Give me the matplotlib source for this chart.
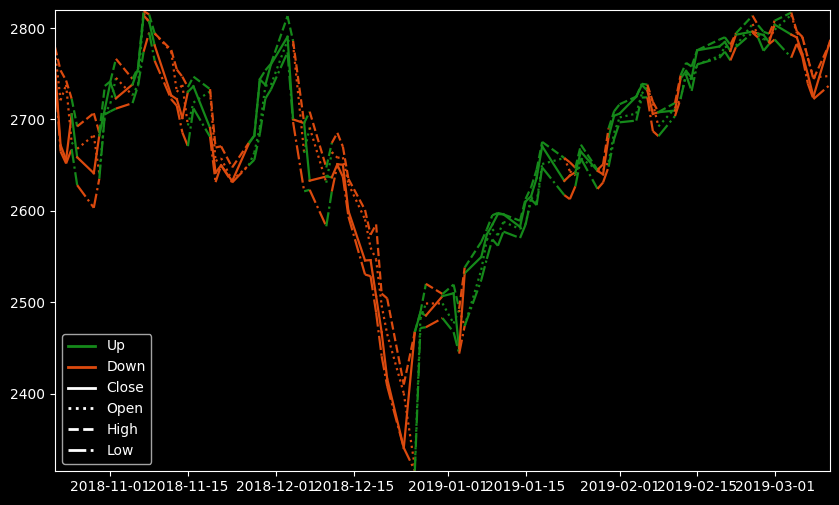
import matplotlib
matplotlib.use("Agg")
import matplotlib.pyplot as plt
import matplotlib.dates as mdates
from matplotlib.lines import Line2D
import numpy as np
import pandas as pd

plt.style.use("dark_background")

# daily index values, Oct 2018 - Mar 2019
dates = [
    "2018-10-22", "2018-10-23", "2018-10-24", "2018-10-25", "2018-10-26", "2018-10-29",
    "2018-10-30", "2018-10-31", "2018-11-01", "2018-11-02", "2018-11-05", "2018-11-06",
    "2018-11-07", "2018-11-08", "2018-11-09", "2018-11-12", "2018-11-13", "2018-11-14",
    "2018-11-15", "2018-11-16", "2018-11-19", "2018-11-20", "2018-11-21", "2018-11-23",
    "2018-11-26", "2018-11-27", "2018-11-28", "2018-11-29", "2018-11-30", "2018-12-03",
    "2018-12-04", "2018-12-06", "2018-12-07", "2018-12-10", "2018-12-11", "2018-12-12",
    "2018-12-13", "2018-12-14", "2018-12-17", "2018-12-18", "2018-12-19", "2018-12-20",
    "2018-12-21", "2018-12-24", "2018-12-26", "2018-12-27", "2018-12-28", "2018-12-31",
    "2019-01-02", "2019-01-03", "2019-01-04", "2019-01-07", "2019-01-08", "2019-01-09",
    "2019-01-10", "2019-01-11", "2019-01-14", "2019-01-15", "2019-01-16", "2019-01-17",
    "2019-01-18", "2019-01-22", "2019-01-23", "2019-01-24", "2019-01-25", "2019-01-28",
    "2019-01-29", "2019-01-30", "2019-01-31", "2019-02-01", "2019-02-04", "2019-02-05",
    "2019-02-06", "2019-02-07", "2019-02-08", "2019-02-11", "2019-02-12", "2019-02-13",
    "2019-02-14", "2019-02-15", "2019-02-19", "2019-02-20", "2019-02-21", "2019-02-22",
    "2019-02-25", "2019-02-26", "2019-02-27", "2019-02-28", "2019-03-01", "2019-03-04",
    "2019-03-05", "2019-03-06", "2019-03-07", "2019-03-08", "2019-03-11",
]

open_ = [
    2773.9, 2721.0, 2737.9, 2674.9, 2667.9, 2682.7, 2640.7, 2705.6, 2717.6, 2745.5,
    2726.4, 2738.4, 2816.0, 2806.4, 2794.1, 2773.9, 2730.1, 2737.9, 2693.5, 2718.5,
    2730.7, 2654.6, 2657.7, 2633.4, 2650.0, 2663.8, 2691.5, 2737.0, 2737.8, 2786.5,
    2782.4, 2663.5, 2691.3, 2630.9, 2664.4, 2658.2, 2658.7, 2629.7, 2590.8, 2559.9,
    2547.1, 2496.8, 2465.4, 2400.6, 2320.0, 2482.0, 2498.8, 2498.9, 2477.0, 2491.9,
    2474.3, 2535.6, 2568.1, 2580.0, 2573.5, 2588.1, 2580.3, 2585.1, 2614.8, 2609.3,
    2651.3, 2657.9, 2643.5, 2638.8, 2657.4, 2645.0, 2644.9, 2653.6, 2685.5, 2702.3,
    2706.5, 2728.3, 2735.1, 2717.5, 2692.4, 2712.4, 2722.6, 2750.3, 2743.5, 2760.2,
    2769.3, 2779.1, 2780.2, 2780.7, 2804.4, 2792.4, 2787.5, 2788.1, 2798.2, 2814.4,
    2794.4, 2790.3, 2766.5, 2746.0, 2747.6,
]
high = [
    2778.9, 2753.6, 2742.6, 2722.7, 2692.4, 2706.9, 2685.4, 2736.7, 2741.7, 2766.3,
    2744.3, 2756.8, 2818.5, 2814.8, 2794.1, 2776.0, 2754.6, 2746.8, 2735.4, 2746.8,
    2733.2, 2669.4, 2670.7, 2647.6, 2674.4, 2682.5, 2744.0, 2753.8, 2760.9, 2813.0,
    2785.9, 2696.2, 2708.5, 2647.5, 2674.4, 2685.4, 2670.2, 2635.1, 2601.1, 2574.0,
    2585.3, 2509.6, 2504.4, 2410.3, 2467.8, 2489.1, 2520.3, 2509.2, 2519.5, 2493.1,
    2538.1, 2566.2, 2579.8, 2595.3, 2597.8, 2596.3, 2589.3, 2613.1, 2625.8, 2645.1,
    2675.5, 2657.9, 2653.2, 2647.2, 2672.4, 2645.0, 2650.9, 2690.4, 2709.0, 2716.7,
    2725.0, 2739.0, 2738.1, 2719.3, 2708.1, 2718.1, 2748.2, 2761.9, 2757.9, 2775.7,
    2787.3, 2789.9, 2781.6, 2794.2, 2813.5, 2803.1, 2795.8, 2793.7, 2808.0, 2816.9,
    2796.4, 2790.3, 2767.3, 2744.1, 2784.0,
]
low = [
    2749.2, 2665.0, 2651.9, 2667.8, 2628.2, 2603.5, 2635.3, 2705.6, 2708.9, 2711.9,
    2717.9, 2737.1, 2774.1, 2795.0, 2764.2, 2722.0, 2715.0, 2685.8, 2670.8, 2712.2,
    2681.1, 2631.5, 2649.8, 2631.1, 2650.0, 2655.9, 2684.4, 2722.9, 2732.8, 2773.4,
    2697.2, 2621.5, 2623.1, 2583.2, 2621.3, 2650.3, 2637.3, 2593.8, 2530.5, 2528.7,
    2489.0, 2441.2, 2408.6, 2341.0, 2316.0, 2472.0, 2472.9, 2482.8, 2467.5, 2444.0,
    2474.3, 2524.6, 2547.6, 2568.9, 2562.0, 2577.4, 2570.4, 2585.1, 2612.7, 2606.4,
    2647.6, 2617.3, 2612.9, 2627.0, 2657.3, 2624.1, 2631.1, 2648.3, 2678.7, 2696.9,
    2698.8, 2724.0, 2724.2, 2687.3, 2681.8, 2703.8, 2722.6, 2748.6, 2731.2, 2760.2,
    2767.3, 2774.1, 2764.6, 2779.1, 2795.0, 2789.5, 2775.1, 2782.5, 2787.4, 2767.7,
    2783.0, 2768.7, 2739.1, 2722.3, 2738.0,
]
close = [
    2755.9, 2672.0, 2656.1, 2705.6, 2658.7, 2641.3, 2682.6, 2711.7, 2740.4, 2723.1,
    2738.3, 2755.5, 2813.9, 2806.8, 2781.0, 2726.2, 2722.2, 2701.6, 2730.2, 2736.3,
    2690.7, 2641.9, 2649.9, 2632.6, 2673.5, 2682.2, 2743.8, 2737.8, 2760.2, 2790.4,
    2700.1, 2696.0, 2633.1, 2637.7, 2636.8, 2651.1, 2650.5, 2600.0, 2545.9, 2546.2,
    2507.0, 2467.4, 2416.6, 2341.0, 2467.7, 2488.8, 2485.7, 2506.9, 2510.0, 2447.9,
    2531.9, 2549.7, 2574.4, 2585.0, 2596.6, 2596.3, 2582.6, 2610.3, 2616.1, 2636.0,
    2670.7, 2632.9, 2638.7, 2642.3, 2664.8, 2643.9, 2640.0, 2681.1, 2704.1, 2706.5,
    2724.9, 2737.7, 2731.6, 2706.1, 2707.9, 2709.8, 2744.7, 2753.0, 2745.7, 2775.6,
    2779.8, 2784.7, 2774.9, 2792.7, 2796.1, 2793.9, 2792.4, 2784.5, 2803.7, 2792.8,
    2789.7, 2771.5, 2748.9, 2725.0, 2786.0,
]

up_color = "#15891a"
down_color = "#dc4a0e"

df = pd.DataFrame({"Open": open_, "High": high, "Low": low, "Close": close},
                  index=pd.to_datetime(dates))
up = df["Close"].values >= df["Open"].values

fig = plt.figure(figsize=(8.39, 5.05), dpi=100)
ax = fig.add_axes([0.0656, 0.0679, 0.9237, 0.9123])

styles = {"Close": "-", "Open": ":", "High": "--", "Low": "-."}
x = df.index
for col, ls in styles.items():
    y = df[col].values
    # each segment takes the colour of the day it starts from
    for i in range(len(df) - 1):
        c = up_color if up[i] else down_color
        ax.plot(x[i:i + 2], y[i:i + 2], color=c, linestyle=ls, linewidth=1.6)

ax.set_xlim(x[0], x[-1])
ax.set_ylim(2316, 2819.7)
ax.set_yticks([2400, 2500, 2600, 2700, 2800])
ax.xaxis.set_major_locator(mdates.DayLocator(bymonthday=[1, 15]))
ax.xaxis.set_major_formatter(mdates.DateFormatter("%Y-%m-%d"))

handles = [
    Line2D([], [], color=up_color, lw=2, label="Up"),
    Line2D([], [], color=down_color, lw=2, label="Down"),
    Line2D([], [], color="white", lw=2, ls="-", label="Close"),
    Line2D([], [], color="white", lw=2, ls=":", label="Open"),
    Line2D([], [], color="white", lw=2, ls="--", label="High"),
    Line2D([], [], color="white", lw=2, ls="-.", label="Low"),
]
ax.legend(handles=handles, loc="lower left")

fig.savefig("out.png", dpi=100)
